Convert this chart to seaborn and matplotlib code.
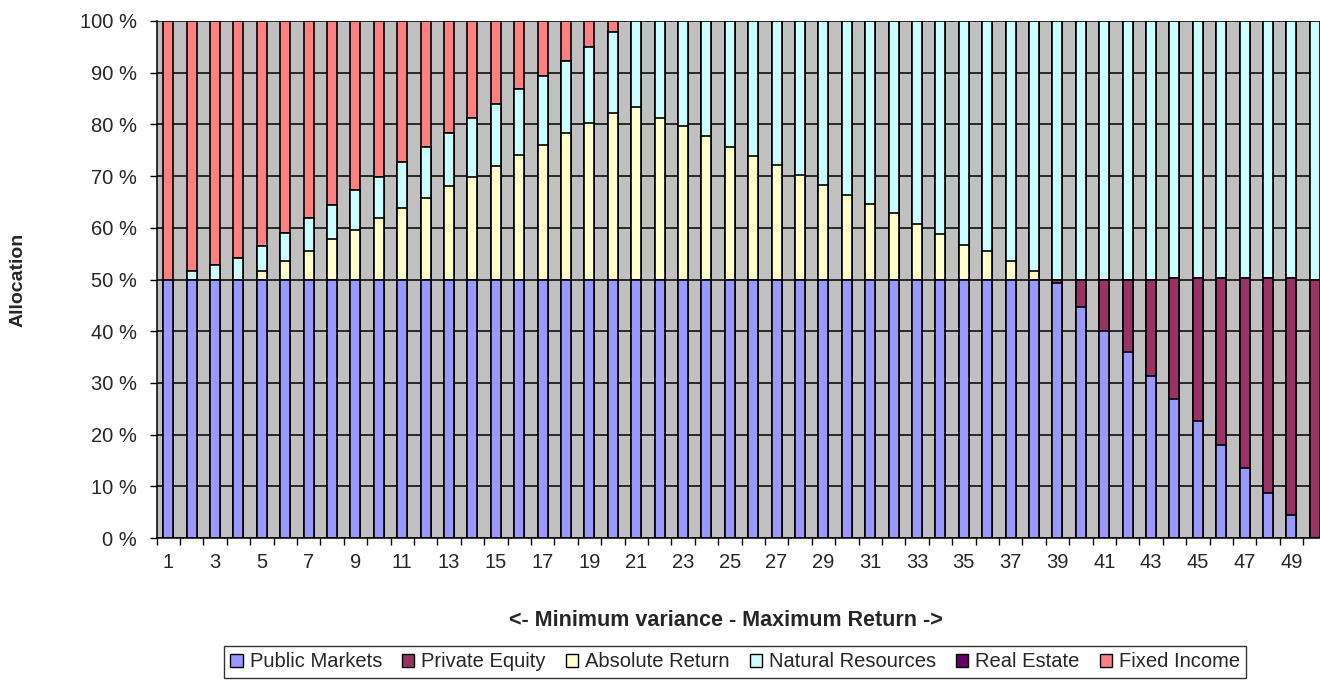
##Efficient frontier allocation chart (stacked bars, 50 portfolios)
import numpy as np
import pandas as pd
import matplotlib
matplotlib.use('Agg')
import matplotlib.pyplot as plt
from matplotlib.patches import Patch
import seaborn as sns

#Portfolio number along the frontier
portfolios = list(range(1, 51))

#Allocation per asset class (in %)
public_markets = [50, 50, 50, 50, 50, 50, 50, 50, 50, 50,
                  50, 50, 50, 50, 50, 50, 50, 50, 50, 50,
                  50, 50, 50, 50, 50, 50, 50, 50, 50, 50,
                  50, 50, 50, 50, 50, 50, 50, 50, 49.4, 44.7,
                  40.0, 35.9, 31.4, 26.8, 22.6, 18.0, 13.5, 8.8, 4.5, 0]
private_equity = [0, 0, 0, 0, 0, 0, 0, 0, 0, 0,
                  0, 0, 0, 0, 0, 0, 0, 0, 0, 0,
                  0, 0, 0, 0, 0, 0, 0, 0, 0, 0,
                  0, 0, 0, 0, 0, 0, 0, 0, 0.6, 5.3,
                  10.0, 14.1, 18.6, 23.4, 27.6, 32.2, 36.7, 41.4, 45.7, 50.0]
absolute_return = [0, 0, 0, 0, 1.6, 3.5, 5.5, 7.9, 9.6, 11.8,
                   13.8, 15.7, 18.0, 19.9, 21.9, 24.1, 26.1, 28.3, 30.2, 32.2,
                   33.3, 31.2, 29.6, 27.7, 25.7, 23.8, 22.2, 20.3, 18.3, 16.3,
                   14.7, 12.8, 10.7, 8.8, 6.6, 5.5, 3.5, 1.6, 0, 0,
                   0, 0, 0, 0, 0, 0, 0, 0, 0, 0]
natural_resources = [0, 1.6, 2.9, 4.2, 4.8, 5.5, 6.3, 6.5, 7.7, 8.1,
                     9.0, 10.0, 10.3, 11.4, 12.0, 12.7, 13.3, 14.0, 14.7, 15.7,
                     16.7, 18.8, 20.4, 22.3, 24.3, 26.2, 27.8, 29.7, 31.7, 33.7,
                     35.3, 37.2, 39.3, 41.2, 43.4, 44.5, 46.5, 48.4, 50, 50,
                     50, 50, 50, 49.8, 49.8, 49.8, 49.8, 49.8, 49.8, 50]
real_estate = [0, 0, 0, 0, 0, 0, 0, 0, 0, 0,
               0, 0, 0, 0, 0, 0, 0, 0, 0, 0,
               0, 0, 0, 0, 0, 0, 0, 0, 0, 0,
               0, 0, 0, 0, 0, 0, 0, 0, 0, 0,
               0, 0, 0, 0, 0, 0, 0, 0, 0, 0]
fixed_income = [50, 48.4, 47.1, 45.8, 43.6, 41.0, 38.2, 35.6, 32.7, 30.1,
                27.2, 24.3, 21.7, 18.7, 16.1, 13.2, 10.6, 7.7, 5.1, 2.1,
                0, 0, 0, 0, 0, 0, 0, 0, 0, 0,
                0, 0, 0, 0, 0, 0, 0, 0, 0, 0,
                0, 0, 0, 0, 0, 0, 0, 0, 0, 0]

asset_names = ['Public Markets', 'Private Equity', 'Absolute Return',
               'Natural Resources', 'Real Estate', 'Fixed Income']
asset_colors = ['#9999FF', '#993366', '#FFFFCC', '#CCFFFF', '#660066', '#FF8080']

alloc_df = pd.DataFrame({'portfolio': portfolios,
                         'Public Markets': public_markets,
                         'Private Equity': private_equity,
                         'Absolute Return': absolute_return,
                         'Natural Resources': natural_resources,
                         'Real Estate': real_estate,
                         'Fixed Income': fixed_income})

#Cumulative tops so every layer can be drawn as a full bar from zero
cum_df = alloc_df[asset_names].cumsum(axis=1)
cum_df['portfolio'] = alloc_df['portfolio']

##Visualisation
sns.set_theme(style='white')
plt.rcParams['font.family'] = ['Liberation Sans', 'DejaVu Sans']
fs = 14.5

fig = plt.figure(figsize=(13.2, 6.8), dpi=100)
ax = fig.add_axes([156.5 / 1320, 142 / 680, 1170 / 1320, 517 / 680])
ax.set_facecolor('#C0C0C0')

#Draw from the top layer down so lower layers sit over higher ones
for name, color in reversed(list(zip(asset_names, asset_colors))):
    sns.barplot(data=cum_df, x='portfolio', y=name, color=color, saturation=1,
                width=0.42, edgecolor='black', linewidth=1.2, ax=ax, zorder=3)

ax.set_ylim(0, 100)
ax.set_xlim(-0.5, 49.5)
ax.set_yticks(np.arange(0, 101, 10))
ax.set_yticklabels([f'{v} %' for v in range(0, 101, 10)], fontsize=fs)
ax.yaxis.grid(True, color='black', linewidth=1.1, zorder=0)
ax.set_axisbelow(True)

#Category labels on every second bar, tick marks between bars
ax.set_xticks(np.arange(0, 50, 2))
ax.set_xticklabels([str(p) for p in portfolios[::2]], fontsize=fs)
ax.set_xticks(np.arange(-0.5, 50, 1), minor=True)
ax.tick_params(axis='x', which='major', length=0, pad=11)
ax.tick_params(axis='x', which='minor', length=5, width=1, color='black', direction='out', bottom=True)
ax.tick_params(axis='y', which='major', length=5, width=1, color='black', direction='out', left=True, pad=9)

for side in ['top', 'right']:
    ax.spines[side].set_visible(False)
for side in ['left', 'bottom']:
    ax.spines[side].set_color('black')
    ax.spines[side].set_linewidth(1.1)
    ax.spines[side].set_zorder(5)

ax.set_xlabel('<- Minimum variance - Maximum Return ->', fontsize=15.5, fontweight='bold')
ax.xaxis.set_label_coords(0.487, -0.139)
ax.set_ylabel('Allocation', fontsize=14, fontweight='bold')
ax.yaxis.set_label_coords(-0.111, 0.5)

handles = [Patch(facecolor=c, edgecolor='black', linewidth=1.0, label=n)
           for n, c in zip(asset_names, asset_colors)]
leg = fig.legend(handles=handles, loc='center', bbox_to_anchor=(0.557, 0.0265), ncol=6,
                 fontsize=fs, frameon=True, fancybox=False, edgecolor='black',
                 handlelength=0.6, handleheight=0.6, handletextpad=0.35,
                 columnspacing=1.0, borderpad=0.3)
leg.get_frame().set_linewidth(1.0)

fig.savefig('out.png', dpi=100)
